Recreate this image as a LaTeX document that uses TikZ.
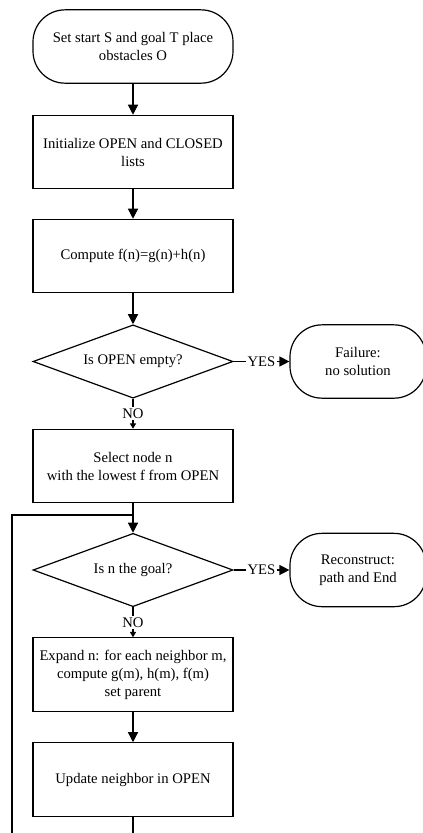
\documentclass[tikz,border=0pt]{standalone}
\usepackage{fontspec}
\setmainfont{Liberation Serif}
\usetikzlibrary{positioning, arrows.meta, shapes.geometric}

\begin{document}
\begin{tikzpicture}[
  x=0.75pt, y=-0.75pt,
  font=\fontsize{11}{13.5}\selectfont,
  line width=0.9pt,
  terminal/.style={
    draw, rounded corners=24pt, align=center,
    minimum width=150pt, minimum height=55pt
  },
  endbox/.style={terminal, minimum width=102pt},
  process/.style={
    draw, align=center,
    minimum width=150pt, minimum height=55pt
  },
  decision/.style={
    draw, diamond, aspect=2.75, inner sep=0pt, align=center,
    minimum width=150pt, minimum height=55pt
  },
  flow/.style={-{Triangle[length=7.5pt, width=7.5pt]}},
  branch/.style={-{Triangle[length=4pt, width=4.5pt]}},
  answer/.style={fill=white, inner sep=1pt},
]

\useasboundingbox (0,0) rectangle (423,833);
\clip (0,0) rectangle (423,833);

% Main column, centred on x=133
\node[terminal] (start)  at (133, 46.5) {Set start S and goal T place\\obstacles O};
\node[process]  (init)   at (133, 152)  {Initialize OPEN and CLOSED\\lists};
\node[process]  (cost)   at (133, 256)  {Compute f(n)=g(n)+h(n)};
\node[decision] (empty)  at (133, 361.5) {Is OPEN empty?};
\node[process]  (select) at (133, 466)  {Select node n\\with the lowest f from OPEN};
\node[decision] (goal)   at (133, 570)  {Is n the goal?};
\node[process]  (expand) at (133, 674.5) {Expand n: for each neighbor m,\\compute g(m), h(m), f(m)\\set parent};
\node[process]  (update) at (133, 779.5) {Update neighbor in OPEN};

% Exits on the right
\node[endbox] (fail)  at (358, 361.5) {Failure:\\no solution};
\node[endbox] (recon) at (358, 570)   {Reconstruct:\\path and End};

% Straight flow
\draw[flow] (start) -- (init);
\draw[flow] (init) -- (cost);
\draw[flow] (cost) -- (empty);
\draw[branch] (empty) -- node[answer] {NO} (select);
\draw[flow] (select) -- (goal);
\draw[branch] (goal) -- node[answer] {NO} (expand);
\draw[flow] (expand) -- (update);

% YES branches
\draw[flow] (empty) -- node[answer] {YES} (fail);
\draw[flow] (goal) -- node[answer] {YES} (recon);

% Loop back above the goal test
\coordinate (join)     at (133, 515);
\coordinate (loopdown) at (133, 845);
\coordinate (loopleft) at (12, 845);
\draw (update) -- (loopdown) -- (loopleft) |- (join);

\end{tikzpicture}
\end{document}
